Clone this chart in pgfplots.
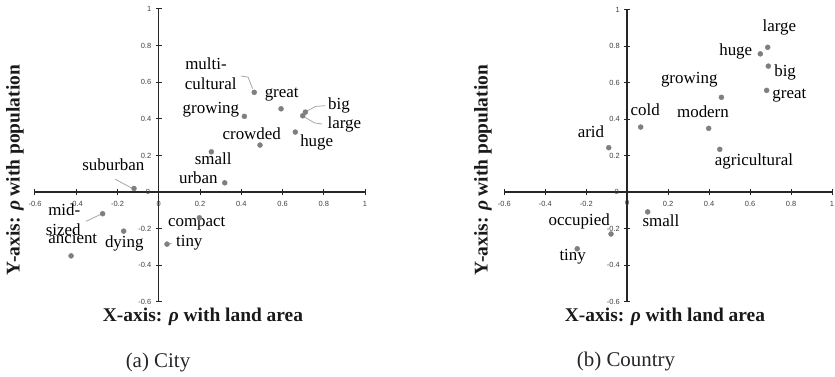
\documentclass[border=0pt]{standalone}
\usepackage{pgfplots}
\pgfplotsset{compat=1.18}
\usepackage{fontspec}
\setmainfont{Liberation Serif}
\newfontfamily\tickfont{Liberation Sans}
\definecolor{markgray}{HTML}{7F7F7F}
\definecolor{leadgray}{HTML}{A6A6A6}
\definecolor{tickgray}{HTML}{404040}
\pgfplotsset{
  myaxis/.style={
    scale only axis,
    axis lines=middle,
    axis line style={-, line width=1.4bp, black!85},
    xmin=-0.6, xmax=1, ymin=-0.6, ymax=1,
    xtick={-0.6,-0.4,-0.2,0,0.2,0.4,0.6,0.8,1},
    ytick={-0.6,-0.4,-0.2,0,0.2,0.4,0.6,0.8,1},
    major tick length=6bp,
    tick align=center,
    tick style={line width=1bp, black!85},
    /pgf/number format/assume math mode=true,
    ticklabel style={font=\tickfont\fontsize{7.5}{8}\selectfont, text=tickgray},
    xticklabel style={yshift=-3bp},
    yticklabel style={xshift=-1bp},
    clip=false,
  },
}
\tikzset{
  lbl/.style={font=\fontsize{17}{18}\selectfont, inner sep=0pt, text height=0.68em, text depth=0.2em},
  zero/.style={font=\tickfont\fontsize{7.5}{8}\selectfont, text=tickgray, inner sep=0pt},
  leader/.style={leadgray, line width=0.8bp},
  ttl/.style={font=\fontsize{19.5}{20}\selectfont\bfseries, inner sep=0pt, text=black!90},
}
\begin{document}
\begin{tikzpicture}
\path[use as bounding box] (0,0) rectangle (835bp,377bp);
% ---------------- (a) City ----------------
\begin{axis}[myaxis, at={(35bp,75bp)}, anchor=south west, width=330bp, height=293bp]
\addplot[only marks, mark=*, mark size=2.5bp, markgray] coordinates {
 (0.463,0.545) (0.593,0.455) (0.711,0.437) (0.698,0.417) (0.662,0.328)
 (0.415,0.414) (0.491,0.257) (0.255,0.22) (0.32,0.051) (-0.12,0.02)
 (-0.272,-0.118) (-0.17,-0.213) (-0.425,-0.348) (0.197,-0.14) (0.04,-0.284)
};
\node[zero] at (axis cs:-0.052,0) {0};
\node[zero] at (axis cs:0,-0.062) {0};
\draw[leader] (axis cs:0.399,0.634) -- (axis cs:0.433,0.628) -- (axis cs:0.455,0.565);
\draw[leader] (axis cs:0.718,0.442) -- (axis cs:0.76,0.468) -- (axis cs:0.808,0.472);
\draw[leader] (axis cs:0.704,0.412) -- (axis cs:0.755,0.378) -- (axis cs:0.792,0.372);
\draw[leader] (axis cs:-0.212,0.071) -- (axis cs:-0.131,0.022);
\draw[leader] (axis cs:-0.353,-0.160) -- (axis cs:-0.283,-0.122);
\draw[leader] (axis cs:0.048,-0.283) -- (axis cs:0.062,-0.280);
\node[lbl] at (axis cs:0.229,0.683) {multi-};
\node[lbl] at (axis cs:0.252,0.574) {cultural};
\node[lbl] at (axis cs:0.596,0.530) {great};
\node[lbl] at (axis cs:0.874,0.466) {big};
\node[lbl] at (axis cs:0.900,0.361) {large};
\node[lbl] at (axis cs:0.766,0.262) {huge};
\node[lbl] at (axis cs:0.253,0.444) {growing};
\node[lbl] at (axis cs:0.451,0.302) {crowded};
\node[lbl] at (axis cs:0.264,0.162) {small};
\node[lbl] at (axis cs:0.192,0.060) {urban};
\node[lbl] at (axis cs:-0.220,0.133) {suburban};
\node[lbl] at (axis cs:-0.458,-0.116) {mid-};
\node[lbl] at (axis cs:-0.463,-0.222) {sized};
\node[lbl] at (axis cs:-0.417,-0.266) {ancient};
\node[lbl] at (axis cs:-0.167,-0.290) {dying};
\node[lbl] at (axis cs:0.184,-0.177) {compact};
\node[lbl] at (axis cs:0.148,-0.284) {tiny};
\end{axis}
% ---------------- (b) Country ----------------
\begin{axis}[myaxis, at={(504.3bp,75.3bp)}, anchor=south west, width=327.7bp, height=292bp]
\addplot[only marks, mark=*, mark size=2.5bp, markgray] coordinates {
 (0.686,0.794) (0.650,0.758) (0.689,0.691) (0.681,0.558) (0.460,0.52)
 (0.398,0.35) (0.452,0.235) (0.066,0.357) (-0.09,0.244) (0.1,-0.108)
 (-0.079,-0.229) (-0.244,-0.31)
};
\node[zero] at (axis cs:-0.051,0) {0};
\node[zero] at (axis cs:0,-0.061) {0};
\node[lbl] at (axis cs:0.743,0.893) {large};
\node[lbl] at (axis cs:0.530,0.764) {huge};
\node[lbl] at (axis cs:0.771,0.648) {big};
\node[lbl] at (axis cs:0.792,0.527) {great};
\node[lbl] at (axis cs:0.303,0.609) {growing};
\node[lbl] at (axis cs:0.370,0.423) {modern};
\node[lbl] at (axis cs:0.619,0.158) {agricultural};
\node[lbl] at (axis cs:0.088,0.432) {cold};
\node[lbl] at (axis cs:-0.177,0.313) {arid};
\node[lbl] at (axis cs:-0.234,-0.167) {occupied};
\node[lbl] at (axis cs:0.165,-0.176) {small};
\node[lbl] at (axis cs:-0.266,-0.362) {tiny};
\end{axis}
% ---------------- axis titles and captions ----------------
\node[ttl] at (203bp,60bp) {X-axis: \textit{ρ} with land area};
\node[ttl] at (665bp,60bp) {X-axis: \textit{ρ} with land area};
\node[ttl, rotate=90] at (15bp,207bp) {Y-axis: \textit{ρ} with population};
\node[ttl, rotate=90] at (483bp,207bp) {Y-axis: \textit{ρ} with population};
\node[font=\fontsize{21}{22}\selectfont, inner sep=0pt, text=black!85] at (158bp,15bp) {(a) City};
\node[font=\fontsize{21}{22}\selectfont, inner sep=0pt, text=black!85] at (626bp,15.3bp) {(b) Country};
\end{tikzpicture}
\end{document}
